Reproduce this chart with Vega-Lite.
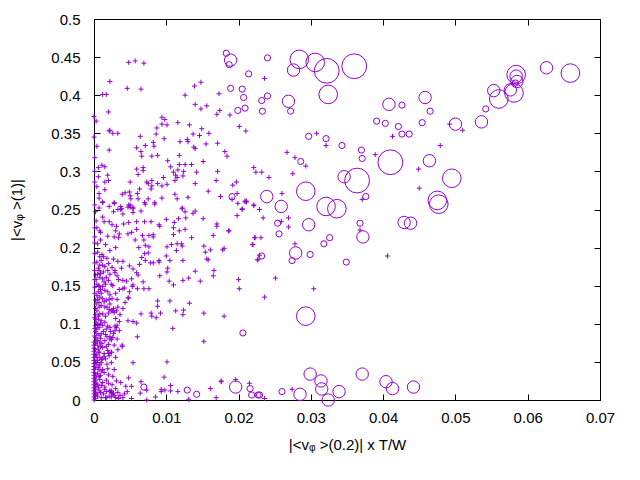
{
  "$schema": "https://vega.github.io/schema/vega-lite/v6.json",
  "autosize": {"type": "none"},
  "padding": {"left": 94, "top": 19, "right": 40, "bottom": 80},
  "width": 506,
  "height": 381,
  "background": "white",
  "datasets": {
    "pts": [
      {"x":0.0048,"y":0.443},{"x":0.0057,"y":0.445},{"x":0.0069,"y":0.442},{"x":0.0022,"y":0.418},{"x":0.0046,"y":0.409},{"x":0.0065,"y":0.408},{"x":0.0012,"y":0.401},{"x":0.0017,"y":0.401},{"x":0.0126,"y":0.400},{"x":0.0139,"y":0.412},
      {"x":0.0148,"y":0.417},{"x":0.0173,"y":0.402},{"x":0.0140,"y":0.388},{"x":0.0148,"y":0.382},{"x":0.0156,"y":0.386},{"x":0.0170,"y":0.375},{"x":0.0174,"y":0.380},{"x":0.0188,"y":0.374},{"x":0.0201,"y":0.359},{"x":0.0210,"y":0.353},
      {"x":0.0020,"y":0.378},{"x":0.0000,"y":0.372},{"x":0.0003,"y":0.366},{"x":0.0021,"y":0.353},{"x":0.0022,"y":0.354},{"x":0.0026,"y":0.350},{"x":0.0033,"y":0.350},{"x":0.0094,"y":0.371},{"x":0.0098,"y":0.368},{"x":0.0087,"y":0.357},
      {"x":0.0094,"y":0.362},{"x":0.0101,"y":0.361},{"x":0.0116,"y":0.364},{"x":0.0132,"y":0.361},{"x":0.0149,"y":0.356},{"x":0.0159,"y":0.350},{"x":0.0137,"y":0.349},{"x":0.0146,"y":0.347},{"x":0.0086,"y":0.349},{"x":0.0097,"y":0.343},
      {"x":0.0064,"y":0.346},{"x":0.0000,"y":0.345},{"x":0.0004,"y":0.333},{"x":0.0059,"y":0.331},{"x":0.0065,"y":0.326},{"x":0.0071,"y":0.334},{"x":0.0066,"y":0.320},{"x":0.0082,"y":0.338},{"x":0.0083,"y":0.333},{"x":0.0080,"y":0.320},
      {"x":0.0088,"y":0.321},{"x":0.0119,"y":0.339},{"x":0.0129,"y":0.342},{"x":0.0130,"y":0.339},{"x":0.0138,"y":0.332},{"x":0.0140,"y":0.330},{"x":0.0155,"y":0.336},{"x":0.0171,"y":0.337},{"x":0.0181,"y":0.326},{"x":0.0184,"y":0.320},
      {"x":0.0118,"y":0.321},{"x":0.0102,"y":0.314},{"x":0.0106,"y":0.306},{"x":0.0021,"y":0.328},{"x":0.0006,"y":0.305},{"x":0.0011,"y":0.308},{"x":0.0015,"y":0.306},{"x":0.0006,"y":0.293},{"x":0.0019,"y":0.295},{"x":0.0020,"y":0.288},
      {"x":0.0004,"y":0.280},{"x":0.0015,"y":0.286},{"x":0.0015,"y":0.276},{"x":0.0007,"y":0.271},{"x":0.0012,"y":0.259},{"x":0.0007,"y":0.265},{"x":0.0059,"y":0.303},{"x":0.0068,"y":0.305},{"x":0.0068,"y":0.301},{"x":0.0061,"y":0.296},
      {"x":0.0050,"y":0.286},{"x":0.0073,"y":0.286},{"x":0.0075,"y":0.284},{"x":0.0080,"y":0.288},{"x":0.0063,"y":0.277},{"x":0.0080,"y":0.281},{"x":0.0079,"y":0.277},{"x":0.0096,"y":0.292},{"x":0.0094,"y":0.281},{"x":0.0101,"y":0.283},
      {"x":0.0088,"y":0.284},{"x":0.0110,"y":0.299},{"x":0.0113,"y":0.295},{"x":0.0116,"y":0.302},{"x":0.0118,"y":0.309},{"x":0.0112,"y":0.288},{"x":0.0115,"y":0.292},{"x":0.0123,"y":0.294},{"x":0.0124,"y":0.300},{"x":0.0135,"y":0.309},
      {"x":0.0126,"y":0.309},{"x":0.0142,"y":0.299},{"x":0.0140,"y":0.284},{"x":0.0151,"y":0.313},{"x":0.0169,"y":0.288},{"x":0.0171,"y":0.300},{"x":0.0175,"y":0.267},{"x":0.0158,"y":0.274},{"x":0.0039,"y":0.270},{"x":0.0043,"y":0.272},
      {"x":0.0049,"y":0.273},{"x":0.0050,"y":0.268},{"x":0.0051,"y":0.264},{"x":0.0028,"y":0.258},{"x":0.0037,"y":0.250},{"x":0.0047,"y":0.253},{"x":0.0054,"y":0.251},{"x":0.0050,"y":0.256},{"x":0.0060,"y":0.271},{"x":0.0061,"y":0.264},
      {"x":0.0071,"y":0.257},{"x":0.0084,"y":0.257},{"x":0.0075,"y":0.264},{"x":0.0094,"y":0.265},{"x":0.0112,"y":0.270},{"x":0.0115,"y":0.264},{"x":0.0130,"y":0.266},{"x":0.0122,"y":0.251},{"x":0.0197,"y":0.286},{"x":0.0192,"y":0.282},
      {"x":0.0198,"y":0.271},{"x":0.0209,"y":0.260},{"x":0.0211,"y":0.260},{"x":0.0221,"y":0.305},{"x":0.0224,"y":0.299},{"x":0.0221,"y":0.255},{"x":0.0205,"y":0.250},
      {"x":0.0236,"y":0.422},{"x":0.0308,"y":0.350},{"x":0.0321,"y":0.334},{"x":0.0413,"y":0.346},{"x":0.0267,"y":0.325},{"x":0.0278,"y":0.318},{"x":0.0293,"y":0.307},{"x":0.0232,"y":0.299},{"x":0.0242,"y":0.292},{"x":0.0275,"y":0.297},
      {"x":0.0389,"y":0.322},{"x":0.0449,"y":0.303},{"x":0.0450,"y":0.278},{"x":0.0260,"y":0.271},{"x":0.0492,"y":0.362},{"x":0.0510,"y":0.354},{"x":0.0479,"y":0.334},
      {"x":0.0229,"y":0.250},{"x":0.0234,"y":0.239},{"x":0.0269,"y":0.239},{"x":0.0269,"y":0.227},{"x":0.0222,"y":0.213},{"x":0.0231,"y":0.213},{"x":0.0219,"y":0.204},{"x":0.0278,"y":0.205},{"x":0.0226,"y":0.184},{"x":0.0251,"y":0.160},
      {"x":0.0304,"y":0.146},{"x":0.0236,"y":0.135},{"x":0.0406,"y":0.189},{"x":0.0274,"y":0.014},{"x":0.0236,"y":0.002},{"x":0.0371,"y":0.263},{"x":0.0259,"y":0.234},{"x":0.0368,"y":0.223},
      {"x":0.0012,"y":0.260},{"x":0.0021,"y":0.254},{"x":0.0028,"y":0.259},{"x":0.0037,"y":0.254},{"x":0.0048,"y":0.256},{"x":0.0050,"y":0.253},{"x":0.0054,"y":0.253},{"x":0.0070,"y":0.259},{"x":0.0084,"y":0.259},
      {"x":0.0002,"y":0.247},{"x":0.0003,"y":0.235},{"x":0.0027,"y":0.247},{"x":0.0033,"y":0.250},{"x":0.0038,"y":0.251},{"x":0.0040,"y":0.244},{"x":0.0065,"y":0.248},{"x":0.0054,"y":0.246},{"x":0.0122,"y":0.252},{"x":0.0126,"y":0.247},
      {"x":0.0140,"y":0.248},{"x":0.0137,"y":0.245},{"x":0.0191,"y":0.263},{"x":0.0199,"y":0.258},{"x":0.0209,"y":0.261},{"x":0.0211,"y":0.261},{"x":0.0205,"y":0.251},{"x":0.0221,"y":0.256},{"x":0.0198,"y":0.242},
      {"x":0.0014,"y":0.234},{"x":0.0021,"y":0.234},{"x":0.0025,"y":0.230},{"x":0.0031,"y":0.228},{"x":0.0041,"y":0.231},{"x":0.0048,"y":0.233},{"x":0.0059,"y":0.234},{"x":0.0070,"y":0.234},{"x":0.0079,"y":0.234},{"x":0.0090,"y":0.230},
      {"x":0.0091,"y":0.228},{"x":0.0100,"y":0.237},{"x":0.0111,"y":0.233},{"x":0.0117,"y":0.238},{"x":0.0127,"y":0.239},{"x":0.0151,"y":0.238},{"x":0.0170,"y":0.231},{"x":0.0170,"y":0.228},{"x":0.0186,"y":0.222},{"x":0.0165,"y":0.216},
      {"x":0.0009,"y":0.220},{"x":0.0008,"y":0.222},{"x":0.0030,"y":0.222},{"x":0.0035,"y":0.218},{"x":0.0028,"y":0.214},{"x":0.0047,"y":0.218},{"x":0.0052,"y":0.220},{"x":0.0059,"y":0.224},{"x":0.0082,"y":0.217},{"x":0.0082,"y":0.214},
      {"x":0.0076,"y":0.216},{"x":0.0067,"y":0.216},{"x":0.0057,"y":0.210},{"x":0.0034,"y":0.213},{"x":0.0110,"y":0.226},{"x":0.0118,"y":0.222},{"x":0.0126,"y":0.224},{"x":0.0135,"y":0.213},{"x":0.0110,"y":0.217},
      {"x":0.0223,"y":0.213},{"x":0.0220,"y":0.204},{"x":0.0229,"y":0.190},{"x":0.0227,"y":0.184},{"x":0.0178,"y":0.197},{"x":0.0180,"y":0.199},{"x":0.0161,"y":0.197},{"x":0.0152,"y":0.202},{"x":0.0154,"y":0.194},{"x":0.0156,"y":0.185},
      {"x":0.0158,"y":0.184},{"x":0.0166,"y":0.170},{"x":0.0165,"y":0.163},{"x":0.0107,"y":0.204},{"x":0.0115,"y":0.205},{"x":0.0121,"y":0.205},{"x":0.0122,"y":0.202},{"x":0.0101,"y":0.201},{"x":0.0114,"y":0.196},{"x":0.0123,"y":0.183},
      {"x":0.0105,"y":0.183},{"x":0.0100,"y":0.189},{"x":0.0090,"y":0.183},{"x":0.0102,"y":0.173},{"x":0.0101,"y":0.168},{"x":0.0091,"y":0.163},{"x":0.0104,"y":0.156},{"x":0.0110,"y":0.151},{"x":0.0123,"y":0.157},{"x":0.0131,"y":0.160},
      {"x":0.0140,"y":0.169},{"x":0.0147,"y":0.156},{"x":0.0200,"y":0.158},{"x":0.0201,"y":0.146},{"x":0.0180,"y":0.110},{"x":0.0152,"y":0.114},
      {"x":0.0088,"y":0.130},{"x":0.0088,"y":0.123},{"x":0.0092,"y":0.114},{"x":0.0079,"y":0.114},{"x":0.0080,"y":0.110},{"x":0.0086,"y":0.108},{"x":0.0105,"y":0.130},{"x":0.0113,"y":0.117},{"x":0.0124,"y":0.118},{"x":0.0123,"y":0.112},
      {"x":0.0132,"y":0.127},{"x":0.0109,"y":0.094},{"x":0.0065,"y":0.113},{"x":0.0054,"y":0.103},{"x":0.0059,"y":0.101},{"x":0.0060,"y":0.083},{"x":0.0047,"y":0.104},{"x":0.0043,"y":0.128},{"x":0.0047,"y":0.134},{"x":0.0048,"y":0.134},
      {"x":0.0049,"y":0.142},{"x":0.0039,"y":0.072},{"x":0.0039,"y":0.070},
      {"x":0.0069,"y":0.210},{"x":0.0071,"y":0.203},{"x":0.0076,"y":0.201},{"x":0.0070,"y":0.192},{"x":0.0066,"y":0.187},{"x":0.0071,"y":0.183},{"x":0.0078,"y":0.180},{"x":0.0082,"y":0.180},{"x":0.0090,"y":0.181},{"x":0.0075,"y":0.193},
      {"x":0.0062,"y":0.200},{"x":0.0049,"y":0.176},{"x":0.0054,"y":0.172},{"x":0.0063,"y":0.178},{"x":0.0059,"y":0.167},{"x":0.0061,"y":0.164},{"x":0.0068,"y":0.155},{"x":0.0054,"y":0.151},{"x":0.0053,"y":0.149},{"x":0.0040,"y":0.146},
      {"x":0.0045,"y":0.156},{"x":0.0040,"y":0.157},{"x":0.0060,"y":0.146},{"x":0.0052,"y":0.159},{"x":0.0038,"y":0.173},{"x":0.0029,"y":0.167},{"x":0.0034,"y":0.158},{"x":0.0042,"y":0.147},{"x":0.0033,"y":0.182},{"x":0.0040,"y":0.182},
      {"x":0.0076,"y":0.146},{"x":0.0069,"y":0.146},{"x":0.0054,"y":0.049},{"x":0.0101,"y":0.050},{"x":0.0097,"y":0.030},{"x":0.0152,"y":0.077},{"x":0.0176,"y":0.025},{"x":0.0187,"y":0.222},
      {"x":0.0025,"y":0.133},{"x":0.0021,"y":0.132},{"x":0.0015,"y":0.122},{"x":0.0027,"y":0.120},{"x":0.0033,"y":0.122},{"x":0.0032,"y":0.132},{"x":0.0024,"y":0.117},{"x":0.0028,"y":0.115},{"x":0.0021,"y":0.119},
      {"x":0.0029,"y":0.097},{"x":0.0032,"y":0.098},{"x":0.0035,"y":0.091},{"x":0.0023,"y":0.090},{"x":0.0016,"y":0.086},{"x":0.0022,"y":0.083},{"x":0.0027,"y":0.087},{"x":0.0024,"y":0.079},{"x":0.0020,"y":0.073},{"x":0.0024,"y":0.063},
      {"x":0.0020,"y":0.061},{"x":0.0014,"y":0.057},{"x":0.0016,"y":0.054},{"x":0.0010,"y":0.053},{"x":0.0008,"y":0.046},{"x":0.0012,"y":0.040},
      {"x":0.0020,"y":0.022},{"x":0.0022,"y":0.011},{"x":0.0024,"y":0.010},{"x":0.0027,"y":0.009},{"x":0.0017,"y":0.011},{"x":0.0015,"y":0.017},{"x":0.0037,"y":0.023},{"x":0.0044,"y":0.018},{"x":0.0046,"y":0.011},{"x":0.0052,"y":0.018},
      {"x":0.0048,"y":0.029},{"x":0.0065,"y":0.024},{"x":0.0064,"y":0.009},{"x":0.0073,"y":0.013},{"x":0.0073,"y":0.000},{"x":0.0085,"y":0.004},{"x":0.0093,"y":0.014},{"x":0.0093,"y":0.011},{"x":0.0098,"y":0.013},{"x":0.0106,"y":0.019},
      {"x":0.0106,"y":0.012},{"x":0.0116,"y":0.011},{"x":0.0131,"y":0.001},{"x":0.0161,"y":0.015},{"x":0.0169,"y":0.003},{"x":0.0176,"y":0.024},{"x":0.0196,"y":0.027},{"x":0.0215,"y":0.022},
      {"x":0.0030,"y":0.003},{"x":0.0040,"y":0.003},{"x":0.0052,"y":0.002},{"x":0.0016,"y":0.003},{"x":0.0024,"y":0.004},{"x":0.0034,"y":0.002},
      {"x":0.0005,"y":0.194},{"x":0.0008,"y":0.188},{"x":0.0013,"y":0.188},{"x":0.0010,"y":0.183},{"x":0.0012,"y":0.177},{"x":0.0008,"y":0.177},{"x":0.0015,"y":0.175},{"x":0.0007,"y":0.170},{"x":0.0002,"y":0.164},{"x":0.0008,"y":0.161},
      {"x":0.0004,"y":0.152},{"x":0.0012,"y":0.159},{"x":0.0017,"y":0.161},{"x":0.0022,"y":0.165},{"x":0.0029,"y":0.170},{"x":0.0016,"y":0.152},{"x":0.0012,"y":0.149},{"x":0.0024,"y":0.152},{"x":0.0006,"y":0.142},{"x":0.0015,"y":0.144},
      {"x":0.0019,"y":0.142},{"x":0.0008,"y":0.135},{"x":0.0012,"y":0.133},{"x":0.0017,"y":0.131},{"x":0.0003,"y":0.126},{"x":0.0010,"y":0.124},{"x":0.0018,"y":0.122},{"x":0.0022,"y":0.126},{"x":0.0026,"y":0.117},{"x":0.0031,"y":0.117},
      {"x":0.0004,"y":0.117},{"x":0.0008,"y":0.113},{"x":0.0012,"y":0.113},{"x":0.0010,"y":0.104},{"x":0.0003,"y":0.102},{"x":0.0015,"y":0.102},{"x":0.0007,"y":0.095},{"x":0.0017,"y":0.093},{"x":0.0022,"y":0.095},{"x":0.0029,"y":0.091},
      {"x":0.0031,"y":0.095},{"x":0.0004,"y":0.087},{"x":0.0010,"y":0.087},{"x":0.0003,"y":0.078},{"x":0.0008,"y":0.076},{"x":0.0015,"y":0.078},{"x":0.0022,"y":0.080},{"x":0.0026,"y":0.082},{"x":0.0012,"y":0.069},{"x":0.0006,"y":0.067},
      {"x":0.0019,"y":0.065},{"x":0.0024,"y":0.062},{"x":0.0003,"y":0.060},{"x":0.0008,"y":0.056},{"x":0.0012,"y":0.054},{"x":0.0004,"y":0.047},{"x":0.0010,"y":0.038},{"x":0.0003,"y":0.030},{"x":0.0008,"y":0.027},{"x":0.0012,"y":0.023},
      {"x":0.0006,"y":0.016},{"x":0.0015,"y":0.014},{"x":0.0022,"y":0.012},{"x":0.0026,"y":0.008},{"x":0.0004,"y":0.008},{"x":0.0010,"y":0.003},{"x":0.0017,"y":0.003},{"x":0.0024,"y":0.012},
      {"x":0.0011,"y":0.191},{"x":0.0018,"y":0.186},{"x":0.0004,"y":0.181},{"x":0.0020,"y":0.179},{"x":0.0006,"y":0.173},{"x":0.0013,"y":0.168},{"x":0.0019,"y":0.170},{"x":0.0025,"y":0.174},{"x":0.0009,"y":0.166},{"x":0.0003,"y":0.158},
      {"x":0.0014,"y":0.155},{"x":0.0020,"y":0.157},{"x":0.0007,"y":0.149},{"x":0.0010,"y":0.140},{"x":0.0022,"y":0.138},{"x":0.0004,"y":0.137},{"x":0.0014,"y":0.129},{"x":0.0007,"y":0.128},{"x":0.0020,"y":0.114},{"x":0.0016,"y":0.110},
      {"x":0.0006,"y":0.106},{"x":0.0012,"y":0.098},{"x":0.0019,"y":0.097},{"x":0.0004,"y":0.093},{"x":0.0013,"y":0.090},{"x":0.0009,"y":0.081},{"x":0.0018,"y":0.083},{"x":0.0005,"y":0.078},{"x":0.0011,"y":0.074},{"x":0.0017,"y":0.070},
      {"x":0.0007,"y":0.063},{"x":0.0014,"y":0.061},{"x":0.0021,"y":0.058},{"x":0.0004,"y":0.056},{"x":0.0010,"y":0.049},{"x":0.0018,"y":0.047},{"x":0.0006,"y":0.043},{"x":0.0014,"y":0.036},{"x":0.0020,"y":0.033},{"x":0.0007,"y":0.031},
      {"x":0.0003,"y":0.022},{"x":0.0010,"y":0.019},{"x":0.0017,"y":0.026},{"x":0.0025,"y":0.020},{"x":0.0030,"y":0.015},{"x":0.0008,"y":0.012},{"x":0.0013,"y":0.008},{"x":0.0021,"y":0.005},{"x":0.0028,"y":0.006},{"x":0.0033,"y":0.010},
      {"x":0.0036,"y":0.006},{"x":0.0042,"y":0.008},{"x":0.0031,"y":0.025},{"x":0.0026,"y":0.031},{"x":0.0028,"y":0.040},{"x":0.0019,"y":0.041},{"x":0.0024,"y":0.049},{"x":0.0030,"y":0.056},{"x":0.0033,"y":0.066},{"x":0.0028,"y":0.072},
      {"x":0.0032,"y":0.080},{"x":0.0035,"y":0.103},{"x":0.0030,"y":0.107},{"x":0.0036,"y":0.112},{"x":0.0040,"y":0.120},{"x":0.0030,"y":0.140},{"x":0.0035,"y":0.145},{"x":0.0026,"y":0.150},{"x":0.0032,"y":0.163},{"x":0.0027,"y":0.185},
      {"x":0.0022,"y":0.196},{"x":0.0030,"y":0.200},{"x":0.0016,"y":0.204},{"x":0.0009,"y":0.210},{"x":0.0019,"y":0.215},{"x":0.0004,"y":0.226},{"x":0.0012,"y":0.240},{"x":0.0007,"y":0.252},
      {"x":0.0000,"y":0.000},{"x":0.0000,"y":0.004},{"x":0.0000,"y":0.008},{"x":0.0000,"y":0.012},{"x":0.0000,"y":0.016},{"x":0.0000,"y":0.020},{"x":0.0000,"y":0.024},{"x":0.0000,"y":0.028},{"x":0.0000,"y":0.032},{"x":0.0000,"y":0.036},
      {"x":0.0000,"y":0.040},{"x":0.0000,"y":0.044},{"x":0.0000,"y":0.048},{"x":0.0000,"y":0.052},{"x":0.0000,"y":0.056},{"x":0.0000,"y":0.060},{"x":0.0000,"y":0.064},{"x":0.0000,"y":0.068},{"x":0.0000,"y":0.072},{"x":0.0000,"y":0.076},
      {"x":0.0002,"y":0.002},{"x":0.0002,"y":0.006},{"x":0.0002,"y":0.010},{"x":0.0002,"y":0.014},{"x":0.0002,"y":0.018},{"x":0.0002,"y":0.022},{"x":0.0002,"y":0.026},{"x":0.0002,"y":0.034},{"x":0.0002,"y":0.042},{"x":0.0002,"y":0.050},
      {"x":0.0002,"y":0.058},{"x":0.0002,"y":0.066},{"x":0.0002,"y":0.074},{"x":0.0002,"y":0.082},{"x":0.0002,"y":0.090},{"x":0.0002,"y":0.098},{"x":0.0002,"y":0.106},{"x":0.0002,"y":0.112},{"x":0.0002,"y":0.120},{"x":0.0002,"y":0.131},
      {"x":0.0001,"y":0.084},{"x":0.0001,"y":0.094},{"x":0.0001,"y":0.108},{"x":0.0001,"y":0.140},{"x":0.0001,"y":0.148},{"x":0.0001,"y":0.158},{"x":0.0001,"y":0.170},{"x":0.0001,"y":0.180},{"x":0.0001,"y":0.192},{"x":0.0001,"y":0.206},
      {"x":0.0001,"y":0.214},{"x":0.0001,"y":0.226},{"x":0.0001,"y":0.256},{"x":0.0001,"y":0.286},{"x":0.0001,"y":0.300},{"x":0.0001,"y":0.318},
      {"x":0.0005,"y":0.005},{"x":0.0005,"y":0.020},{"x":0.0005,"y":0.035},{"x":0.0005,"y":0.052},{"x":0.0005,"y":0.072},{"x":0.0005,"y":0.098},{"x":0.0005,"y":0.132},{"x":0.0005,"y":0.165},{"x":0.0005,"y":0.205},{"x":0.0006,"y":0.110},
      {"x":0.0007,"y":0.040},{"x":0.0007,"y":0.062},{"x":0.0007,"y":0.085},{"x":0.0007,"y":0.122},{"x":0.0007,"y":0.150},{"x":0.0009,"y":0.010},{"x":0.0009,"y":0.032},{"x":0.0009,"y":0.070},{"x":0.0009,"y":0.100},{"x":0.0009,"y":0.145}
    ],
    "circ": [
      {"x":0.0183,"y":0.455,"w":1},{"x":0.0189,"y":0.446,"w":2},{"x":0.0187,"y":0.440,"w":1},{"x":0.0214,"y":0.428,"w":1},{"x":0.0189,"y":0.409,"w":1},{"x":0.0205,"y":0.408,"w":1},{"x":0.0207,"y":0.397,"w":1},{"x":0.0199,"y":0.380,"w":1},{"x":0.0209,"y":0.383,"w":1},{"x":0.0191,"y":0.267,"w":1},
      {"x":0.0240,"y":0.449,"w":1},{"x":0.0284,"y":0.447,"w":3},{"x":0.0306,"y":0.443,"w":3},{"x":0.0276,"y":0.433,"w":2},{"x":0.0322,"y":0.432,"w":4},{"x":0.0360,"y":0.438,"w":4},{"x":0.0324,"y":0.401,"w":3},{"x":0.0232,"y":0.393,"w":1},{"x":0.0240,"y":0.399,"w":1},{"x":0.0269,"y":0.392,"w":2},
      {"x":0.0233,"y":0.379,"w":1},{"x":0.0272,"y":0.379,"w":1},{"x":0.0408,"y":0.388,"w":2},{"x":0.0426,"y":0.387,"w":1},{"x":0.0458,"y":0.397,"w":2},{"x":0.0465,"y":0.379,"w":1},{"x":0.0391,"y":0.366,"w":1},{"x":0.0403,"y":0.363,"w":1},{"x":0.0421,"y":0.359,"w":1},{"x":0.0454,"y":0.364,"w":1},
      {"x":0.0426,"y":0.349,"w":1},{"x":0.0436,"y":0.349,"w":1},{"x":0.0297,"y":0.346,"w":1},{"x":0.0321,"y":0.343,"w":1},{"x":0.0343,"y":0.334,"w":1},{"x":0.0370,"y":0.328,"w":1},{"x":0.0371,"y":0.317,"w":1},{"x":0.0286,"y":0.313,"w":1},{"x":0.0410,"y":0.312,"w":4},{"x":0.0464,"y":0.314,"w":2},
      {"x":0.0346,"y":0.293,"w":2},{"x":0.0364,"y":0.288,"w":4},{"x":0.0495,"y":0.291,"w":3},{"x":0.0293,"y":0.274,"w":3},{"x":0.0239,"y":0.267,"w":2},{"x":0.0376,"y":0.267,"w":1},{"x":0.0259,"y":0.254,"w":2},{"x":0.0321,"y":0.254,"w":3},{"x":0.0336,"y":0.251,"w":3},{"x":0.0475,"y":0.262,"w":3},
      {"x":0.0477,"y":0.257,"w":3},{"x":0.0500,"y":0.362,"w":2},{"x":0.0536,"y":0.365,"w":2},{"x":0.0542,"y":0.382,"w":1},{"x":0.0553,"y":0.406,"w":2},{"x":0.0560,"y":0.395,"w":3},{"x":0.0576,"y":0.407,"w":2},{"x":0.0581,"y":0.403,"w":3},{"x":0.0584,"y":0.427,"w":3},{"x":0.0584,"y":0.425,"w":2},
      {"x":0.0585,"y":0.418,"w":2},{"x":0.0583,"y":0.416,"w":1},{"x":0.0626,"y":0.436,"w":2},{"x":0.0659,"y":0.429,"w":3},
      {"x":0.0254,"y":0.232,"w":1},{"x":0.0256,"y":0.218,"w":1},{"x":0.0297,"y":0.230,"w":2},{"x":0.0368,"y":0.232,"w":1},{"x":0.0372,"y":0.214,"w":2},{"x":0.0429,"y":0.233,"w":2},{"x":0.0438,"y":0.232,"w":2},{"x":0.0318,"y":0.205,"w":1},{"x":0.0326,"y":0.213,"w":1},{"x":0.0279,"y":0.193,"w":2},
      {"x":0.0274,"y":0.183,"w":1},{"x":0.0232,"y":0.189,"w":1},{"x":0.0299,"y":0.191,"w":1},{"x":0.0349,"y":0.181,"w":1},{"x":0.0293,"y":0.110,"w":3},
      {"x":0.0299,"y":0.034,"w":2},{"x":0.0314,"y":0.025,"w":2},{"x":0.0315,"y":0.0145,"w":2},{"x":0.0324,"y":0.000,"w":2},{"x":0.0339,"y":0.011,"w":2},{"x":0.0371,"y":0.034,"w":2},{"x":0.0404,"y":0.024,"w":2},{"x":0.0413,"y":0.015,"w":2},{"x":0.0442,"y":0.017,"w":2},{"x":0.0285,"y":0.0075,"w":2},
      {"x":0.0260,"y":0.011,"w":1},{"x":0.0229,"y":0.0066,"w":1},{"x":0.0206,"y":0.088,"w":1},{"x":0.0069,"y":0.017,"w":1},{"x":0.0129,"y":0.013,"w":1},{"x":0.0142,"y":0.0075,"w":1},{"x":0.0196,"y":0.017,"w":2},{"x":0.0216,"y":0.015,"w":1},{"x":0.0218,"y":0.0066,"w":1},{"x":0.0227,"y":0.0066,"w":1}
    ]
  },
  "layer": [
    {
      "data": {"name": "pts"},
      "mark": {"type": "point", "shape": "M-1,0H1M0,-1V1", "filled": false, "size": 25, "strokeWidth": 1, "color": "#9400d3", "opacity": 1},
      "encoding": {
        "x": {
          "field": "x", "type": "quantitative",
          "scale": {"domain": [0, 0.07], "nice": false, "zero": false},
          "axis": {"orient": "bottom", "values": [0, 0.01, 0.02, 0.03, 0.04, 0.05, 0.06, 0.07], "format": "~g", "title": "|<vᵩ >(0.2)| x T/W", "labelPadding": 16, "titlePadding": 12}
        },
        "y": {
          "field": "y", "type": "quantitative",
          "scale": {"domain": [0, 0.5], "nice": false, "zero": false},
          "axis": {"orient": "left", "values": [0, 0.05, 0.1, 0.15, 0.2, 0.25, 0.3, 0.35, 0.4, 0.45, 0.5], "format": "~g", "title": "|<vᵩ >(1)|", "labelPadding": 20, "titlePadding": 26}
        }
      }
    },
    {
      "data": {"name": "circ"},
      "mark": {"type": "point", "shape": "circle", "filled": false, "strokeWidth": 1, "color": "#9400d3", "opacity": 1},
      "encoding": {
        "x": {"field": "x", "type": "quantitative", "axis": null},
        "y": {"field": "y", "type": "quantitative", "axis": null},
        "size": {"field": "w", "type": "quantitative", "scale": {"type": "pow", "exponent": 2, "domain": [0, 4], "range": [0, 615]}, "legend": null}
      }
    },
    {
      "data": {"name": "circ"},
      "mark": {"type": "point", "opacity": 0},
      "encoding": {
        "x": {"field": "x", "type": "quantitative", "axis": {"orient": "top", "values": [0, 0.01, 0.02, 0.03, 0.04, 0.05, 0.06, 0.07], "labels": false, "title": null}},
        "y": {"field": "y", "type": "quantitative", "axis": {"orient": "right", "values": [0, 0.05, 0.1, 0.15, 0.2, 0.25, 0.3, 0.35, 0.4, 0.45, 0.5], "labels": false, "title": null}}
      }
    }
  ],
  "resolve": {"axis": {"x": "independent", "y": "independent"}},
  "config": {
    "view": {"stroke": "black", "strokeWidth": 1},
    "axis": {
      "grid": false,
      "domainColor": "black",
      "tickColor": "black",
      "tickSize": -6,
      "labelFlush": false,
      "labelFont": "Liberation Sans",
      "labelFontSize": 15,
      "labelColor": "black",
      "titleFont": "Liberation Sans",
      "titleFontSize": 15,
      "titleFontWeight": "normal",
      "titleColor": "black"
    }
  }
}
